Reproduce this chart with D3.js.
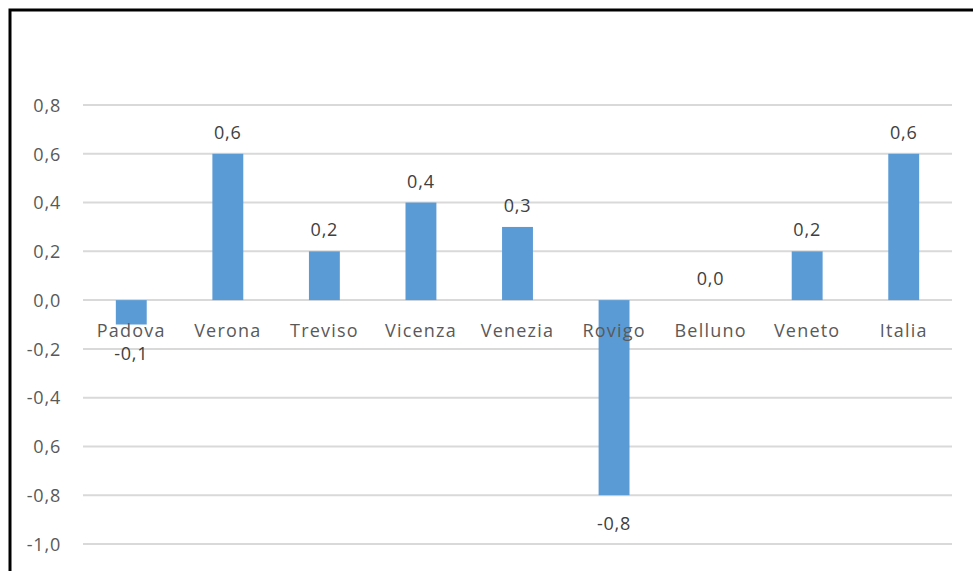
<!DOCTYPE html>
<html><head><meta charset="utf-8">
<script src="https://cdn.jsdelivr.net/npm/d3@7"></script>
<style>body{margin:0;background:#fff}svg{display:block}text{font-family:"Open Sans",Arial,sans-serif}</style>
</head><body><svg id="c" width="973" height="571"></svg>
<script>
const categories = ["Padova","Verona","Treviso","Vicenza","Venezia","Rovigo","Belluno","Veneto","Italia"];
const values = [-0.1,0.6,0.2,0.4,0.3,-0.8,0.0,0.2,0.6];
const valueLabels = ["-0,1","0,6","0,2","0,4","0,3","-0,8","0,0","0,2","0,6"];
const tickValues = [0.8,0.6,0.4,0.2,0.0,-0.2,-0.4,-0.6,-0.8,-1.0];
const tickLabels = ["0,8","0,6","0,4","0,2","0,0","-0,2","-0,4","0,6","-0,8","-1,0"];

const svg = d3.select("#c");
svg.append("rect").attr("x",10).attr("y",10).attr("width",1000).attr("height",600)
  .attr("fill","#fff").attr("stroke","#000").attr("stroke-width",3);

const x = d3.scaleBand().domain(categories).range([83,952]).paddingInner(0.68).paddingOuter(0.34);
const y = d3.scaleLinear().domain([-1.0,0.8]).range([544,105]);

const grid = svg.append("g");
grid.selectAll("line").data(tickValues).join("line")
  .attr("x1",83).attr("x2",952).attr("y1",d=>y(d)).attr("y2",d=>y(d))
  .attr("stroke","#d9d9d9").attr("stroke-width",2);

const yAxis = d3.axisLeft(y).tickValues(tickValues).tickSize(0).tickPadding(0)
  .tickFormat((d,i)=>tickLabels[i]);
const ya = svg.append("g").attr("transform","translate(61,0)").call(yAxis);
ya.select(".domain").remove();
ya.selectAll("text").attr("fill","#595959").style("font-size","18px").style("letter-spacing","0.8px")
  .style("font-family","'Open Sans',Arial,sans-serif").attr("dy","0.35em");

svg.append("g").selectAll("rect").data(values).join("rect")
  .attr("x",(d,i)=>x(categories[i])).attr("width",x.bandwidth())
  .attr("y",d=>y(Math.max(0,d))).attr("height",d=>Math.abs(y(d)-y(0)))
  .attr("fill","#5b9bd5");

svg.append("g").selectAll("text").data(categories).join("text")
  .attr("x",d=>x(d)+x.bandwidth()/2).attr("y",y(0)+37)
  .attr("text-anchor","middle").attr("fill","#595959")
  .style("font-size","18px").style("letter-spacing","1.2px").text(d=>d);

svg.append("g").selectAll("text").data(values).join("text")
  .attr("x",(d,i)=>x(categories[i])+x.bandwidth()/2)
  .attr("y",d=>d<0 ? y(d)+35 : y(d)-15)
  .attr("text-anchor","middle").attr("fill","#404040")
  .style("font-size","18px").style("letter-spacing","0.8px").text((d,i)=>valueLabels[i]);
</script></body></html>
